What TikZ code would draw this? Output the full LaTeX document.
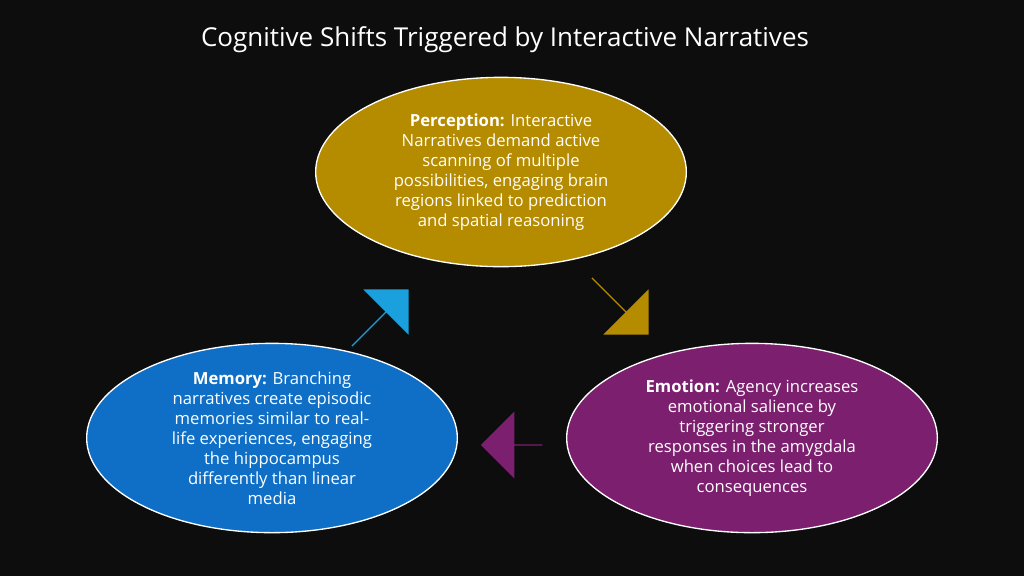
\documentclass[tikz,border=0pt]{standalone}
\usepackage{fontspec}
\setmainfont{Open Sans}
\usetikzlibrary{shapes.geometric,shapes.arrows}
\definecolor{bgblack}{HTML}{0D0D0D}
\definecolor{percgold}{HTML}{B58B00}
\definecolor{emopurple}{HTML}{7B1F6E}
\definecolor{memblue}{HTML}{0F6FC6}
\definecolor{arrowblue}{HTML}{1AA0DC}
\tikzset{
  bubble/.style={ellipse, draw=white, line width=1pt, text=white, align=center,
    minimum width=278pt, minimum height=142pt, inner sep=0pt, font=\fontsize{12.5}{15}\selectfont},
  blockarrow/.style={single arrow, draw=none, minimum height=60pt, minimum width=48pt,
    single arrow head extend=9pt, inner sep=0pt}
}
\begin{document}
\begin{tikzpicture}[x=0.75pt,y=-0.75pt]
        \fill[bgblack] (0,0) rectangle (1024,576);
        \node[text=white, font=\fontsize{19.5}{22}\selectfont] (title) at (505,40) {Cognitive Shifts Triggered by Interactive Narratives};

        \node[bubble, fill=percgold] (perc) at (501,172) {\textbf{Perception:} Interactive\\Narratives demand active\\scanning of multiple\\possibilities, engaging brain\\regions linked to prediction\\and spatial reasoning};
        \node[bubble, fill=emopurple] (emo) at (752,438) {\textbf{Emotion:} Agency increases\\emotional salience by\\triggering stronger\\responses in the amygdala\\when choices lead to\\consequences};
        \node[bubble, fill=memblue] (mem) at (272,438) {\textbf{Memory:} Branching\\narratives create episodic\\memories similar to real-\\life experiences, engaging\\the hippocampus\\differently than linear\\media};

        \node[blockarrow, fill=arrowblue, rotate=45] (up) at (380,318) {};
        \node[blockarrow, fill=percgold, rotate=-45] (down) at (620,306) {};
        \node[blockarrow, fill=emopurple, rotate=180, minimum height=46pt, minimum width=50pt] (left) at (512,445) {};
\end{tikzpicture}
\end{document}
